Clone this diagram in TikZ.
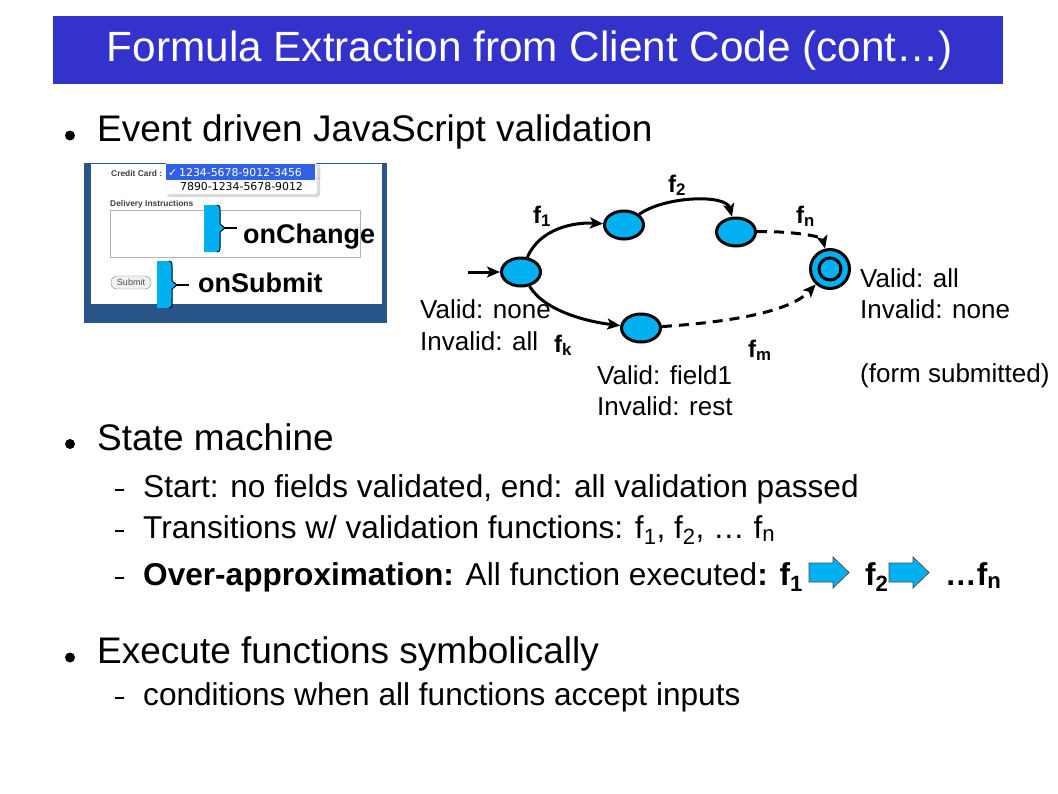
\documentclass[tikz,border=0pt]{standalone}
\usepackage{fontspec}
\setmainfont{Liberation Sans}
\newfontfamily\symfont{DejaVu Sans}
\usepackage{tikz}
\usetikzlibrary{arrows.meta,positioning,shapes.geometric}

\definecolor{titleblue}{RGB}{51,51,204}
\definecolor{statefill}{RGB}{0,176,240}
\definecolor{framebl}{RGB}{40,84,136}
\definecolor{selblue}{RGB}{52,96,230}
\newcommand{\fs}[1]{\fontsize{#1}{#1}\selectfont}

\begin{document}
\begin{tikzpicture}[x=1pt, y=-1pt,
  >={Stealth[length=13pt,width=11pt,inset=3pt]},
  state/.style={ellipse, draw, line width=3pt, fill=statefill,
    minimum width=39pt, minimum height=28pt, inner sep=0pt},
  trans/.style={->, line width=3pt},
  dashtrans/.style={trans, dash pattern=on 10pt off 7pt},
  lbl/.style={anchor=base west, inner sep=0pt, font=\fs{26}},
  flbl/.style={anchor=base west, inner sep=0pt, font=\fs{24}\bfseries},
  bulletline/.style={anchor=base west, inner sep=0pt, font=\fs{37}},
  subline/.style={anchor=base west, inner sep=0pt, font=\fs{31.6}},
  shot/.style={anchor=base west, inner sep=0pt, font=\fs{8.4}\bfseries, text=black!75},
  blockarrow/.style={draw=black!70, fill=statefill, line width=0.8pt},
]
  \fill[white] (0,0) rectangle (1058,793);
  \useasboundingbox (0,0) rectangle (1058,793);

  % title bar
  \fill[titleblue] (53,16) rectangle (1003,84);
  \node[anchor=base, inner sep=0pt, font=\fs{42.3}, text=white] (title) at (530,61)
    {Formula Extraction from Client Code (cont…)};

  % bullets
  \foreach \by in {135.5,444,657.5} \fill (70,\by) circle[radius=5];
  \foreach \sy in {490,531,578,698} \draw[line width=1.6pt] (115,\sy) -- (124,\sy);
  \node[bulletline] (b1) at (97,141) {Event driven JavaScript validation};
  \node[bulletline] (b2) at (97,450) {State machine};
  \node[subline] (s1l) at (143,497) {Start: no fields validated, end: all validation passed};
  \node[subline] (s2l) at (143,538)
    {Transitions w/ validation functions: f\textsubscript{1}, f\textsubscript{2}, … f\textsubscript{n}};
  \node[subline] (s3l) at (143,585)
    {\bfseries Over-approximation: \mdseries All function executed\bfseries: f\textsubscript{1}};
  \foreach \ax in {809,889}
    \draw[blockarrow] (\ax,563) -- ++(24,0) -- ++(0,-6) -- ++(16,15.5) -- ++(-16,15.5)
      -- ++(0,-6) -- ++(-24,0) -- cycle;
  \node[subline, font=\fs{31.6}\bfseries] (f2b) at (865,585) {f\textsubscript{2}};
  \node[subline, font=\fs{31.6}\bfseries] (fnb) at (945,585) {…f\textsubscript{n}};
  \node[bulletline] (b3) at (97,663) {Execute functions symbolically};
  \node[subline] (s4l) at (143,705) {conditions when all functions accept inputs};

  % screenshot of the form
  \fill[framebl] (84,163) rectangle (387,323);
  \fill[white] (91,164) rectangle (382,304);
  \node[shot] (cc) at (111,176) {Credit Card :};
  \fill[black!15, rounded corners=3pt] (167,166) rectangle (320,197);
  \fill[white, rounded corners=2pt] (165,163) rectangle (317,194);
  \fill[selblue] (166,164) rectangle (315,180);
  \draw[black!35, rounded corners=1pt] (316,165) rectangle (320,179);
  \node[anchor=base west, inner sep=0pt, font=\symfont\fs{10.9}, text=white] (opt1) at (168,176.5)
    {✓\,1234-5678-9012-3456};
  \node[anchor=base west, inner sep=0pt, font=\symfont\fs{10.9}] (opt2) at (180,190.5) {7890-1234-5678-9012};
  \node[shot] (di) at (110,206) {Delivery Instructions};
  \draw[black!30, line width=0.8pt] (110,210) rectangle (360,257);
  \draw[black!50, fill=black!5, rounded corners=6pt] (111,276) rectangle (151,289);
  \node[inner sep=0pt, font=\fs{9}, text=black!70] (sub) at (131,282.5) {Submit};

  % event braces
  \fill[statefill] (204,205) -- (217,205) .. controls (220,206) .. (220,210) -- (220,224)
    -- (225,228) -- (220,232) -- (220,248) .. controls (220,251) .. (217,252) -- (204,252) -- cycle;
  \draw[line width=1pt] (217,205) .. controls (220,206) .. (220,210) -- (220,224)
    -- (225,228) -- (220,232) -- (220,248) .. controls (220,251) .. (217,252);
  \fill[statefill] (157,261) -- (169,261) .. controls (172,262) .. (172,266) -- (172,281)
    -- (177,285) -- (172,289) -- (172,303) .. controls (172,307) .. (169,308) -- (157,308) -- cycle;
  \draw[line width=1pt] (169,261) .. controls (172,262) .. (172,266) -- (172,281)
    -- (177,285) -- (172,289) -- (172,303) .. controls (172,307) .. (169,308);
  \coordinate (tipA) at (225,228);
  \coordinate (endA) at (237,228);
  \coordinate (tipB) at (177,285);
  \coordinate (endB) at (189,285);
  \draw[line width=1.3pt] (tipA) -- (endA);
  \draw[line width=1.3pt] (tipB) -- (endB);
  \node[anchor=base west, inner sep=0pt, font=\fs{27}\bfseries] (chg) at (243,243) {onChange};
  \node[anchor=base west, inner sep=0pt, font=\fs{27}\bfseries] (smt) at (198,292) {onSubmit};

  % state machine
  \node[state] (s0) at (521,272) {};
  \node[state] (sa) at (624,225) {};
  \node[state] (sb) at (736,232) {};
  \node[state] (sk) at (641,328) {};
  \node[state, circle, minimum size=39pt] (fin) at (830,269) {};
  \draw[line width=3pt] (fin.center) circle[radius=11];
  \coordinate (init) at (468,272);
  \draw[trans] (init) -- (s0);
  \draw[trans] (s0) .. controls (540,228) and (575,222) .. (sa);
  \draw[trans] (sa) .. controls (665,196) and (726,194) .. (sb);
  \draw[dashtrans] (sb) .. controls (790,231) and (822,236) .. (fin);
  \draw[trans] (s0) .. controls (545,312) and (590,322) .. (sk);
  \draw[dashtrans] (sk) .. controls (730,322) and (790,312) .. (fin);
  \node[flbl] (lf1) at (533,223) {f\textsubscript{1}};
  \node[flbl] (lf2) at (668,192) {f\textsubscript{2}};
  \node[flbl] (lfn) at (796,223) {f\textsubscript{n}};
  \node[flbl] (lfk) at (554,352) {f\textsubscript{k}};
  \node[flbl] (lfm) at (748,357) {f\textsubscript{m}};
  \node[lbl] (v0) at (420,318) {Valid: none};
  \node[lbl] (i0) at (420,350) {Invalid: all};
  \node[lbl] (vk) at (597,384) {Valid: field1};
  \node[lbl] (ik) at (597,415) {Invalid: rest};
  \node[lbl] (vf) at (860,287) {Valid: all};
  \node[lbl] (ivf) at (860,318) {Invalid: none};
  \node[lbl] (sf) at (860,382) {(form submitted)};
\end{tikzpicture}
\end{document}
